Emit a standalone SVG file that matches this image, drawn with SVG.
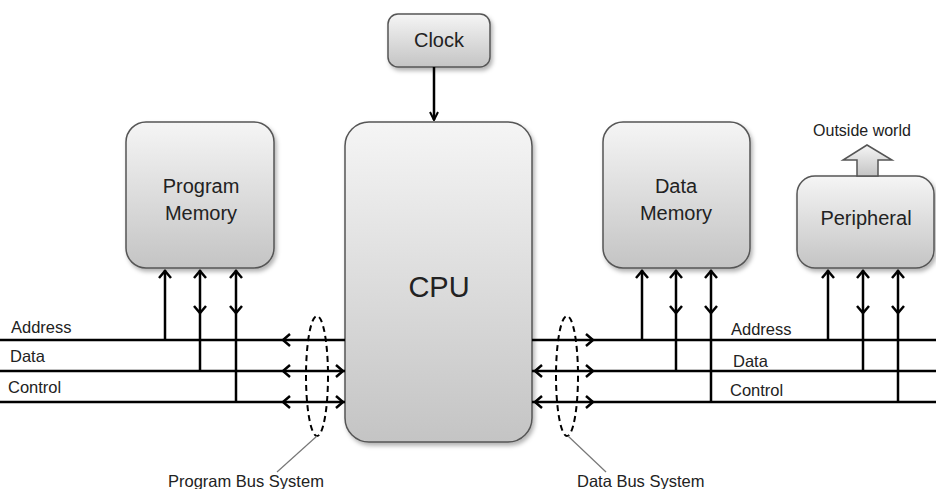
<svg xmlns="http://www.w3.org/2000/svg" width="936" height="489" viewBox="0 0 936 489">
<defs>
<linearGradient id="g" x1="0" y1="0" x2="0" y2="1">
<stop offset="0" stop-color="#f5f5f5"/>
<stop offset="1" stop-color="#c4c4c4"/>
</linearGradient>
<filter id="sh" x="-10%" y="-10%" width="130%" height="130%">
<feDropShadow dx="2" dy="3" stdDeviation="2" flood-color="#000" flood-opacity="0.3"/>
</filter>
<marker id="ah" viewBox="0 0 10 10" refX="9" refY="5" markerWidth="10" markerHeight="10" markerUnits="userSpaceOnUse" orient="auto">
<path d="M1,1 L9,5 L1,9" fill="none" stroke="#000" stroke-width="2"/>
</marker>
</defs>
<style>
.box{fill:url(#g);stroke:#555;stroke-width:1.5;filter:url(#sh)}
.t{font-family:"Liberation Sans",Arial,sans-serif;fill:#222;text-anchor:middle}
.l{font-family:"Liberation Sans",Arial,sans-serif;fill:#222;font-size:16.5px}
.w{stroke:#000;stroke-width:2.5;fill:none}
.h{stroke:#000;stroke-width:2.5;fill:none}
.e{stroke:#000;stroke-width:2;fill:none;stroke-dasharray:6 4}
.ld{stroke:#777;stroke-width:1.2}
</style>

<g id="clock">
<rect class="box" x="388" y="14" width="102" height="53" rx="10"/>
<text class="t" x="439" y="47" font-size="20">Clock</text>
</g>
<g id="program-memory">
<rect class="box" x="126" y="122" width="148" height="146" rx="20"/>
<text class="t" x="201" y="193" font-size="20">Program</text>
<text class="t" x="201" y="220" font-size="20">Memory</text>
</g>
<g id="cpu">
<rect class="box" x="345" y="122" width="187" height="320" rx="24"/>
<text class="t" x="439" y="297" font-size="29">CPU</text>
</g>
<g id="data-memory">
<rect class="box" x="603" y="122" width="147" height="146" rx="20"/>
<text class="t" x="676" y="193" font-size="20">Data</text>
<text class="t" x="676" y="220" font-size="20">Memory</text>
</g>
<g id="peripheral">
<rect class="box" x="797" y="176" width="137" height="92" rx="18"/>
<text class="t" x="866" y="225" font-size="20">Peripheral</text>
</g>
<g id="outside-world">
<path d="M857,176 L857,160 L843,160 L867,145 L892,160 L878,160 L878,176 Z" fill="url(#g)" stroke="#555" stroke-width="1.5"/>
<text class="t" x="862" y="136" font-size="16">Outside world</text>
</g>

<g id="connectors">
<line class="w" x1="434" y1="67" x2="434" y2="120" marker-end="url(#ah)"/>
<line class="w" x1="0" y1="340" x2="345" y2="340"/>
<line class="w" x1="0" y1="371" x2="345" y2="371"/>
<line class="w" x1="0" y1="402" x2="345" y2="402"/>
<line class="w" x1="532" y1="340" x2="936" y2="340"/>
<line class="w" x1="532" y1="371" x2="936" y2="371"/>
<line class="w" x1="532" y1="402" x2="936" y2="402"/>
<polyline class="h" points="290,334 283,340 290,346"/>
<polyline class="h" points="290,365 283,371 290,377"/>
<polyline class="h" points="336,365 343,371 336,377"/>
<polyline class="h" points="290,396 283,402 290,408"/>
<polyline class="h" points="336,396 343,402 336,408"/>
<polyline class="h" points="586,334 593,340 586,346"/>
<polyline class="h" points="542,365 535,371 542,377"/>
<polyline class="h" points="586,365 593,371 586,377"/>
<polyline class="h" points="542,396 535,402 542,408"/>
<polyline class="h" points="586,396 593,402 586,408"/>
<line class="w" x1="165" y1="340" x2="165" y2="270"/>
<polyline class="h" points="159,278 165,271 171,278"/>
<line class="w" x1="200" y1="371" x2="200" y2="270"/>
<polyline class="h" points="194,278 200,271 206,278"/>
<polyline class="h" points="194,306 200,313 206,306"/>
<line class="w" x1="236" y1="402" x2="236" y2="270"/>
<polyline class="h" points="230,278 236,271 242,278"/>
<polyline class="h" points="230,306 236,313 242,306"/>
<line class="w" x1="642" y1="340" x2="642" y2="270"/>
<polyline class="h" points="636,278 642,271 648,278"/>
<line class="w" x1="676" y1="371" x2="676" y2="270"/>
<polyline class="h" points="670,278 676,271 682,278"/>
<polyline class="h" points="670,306 676,313 682,306"/>
<line class="w" x1="711" y1="402" x2="711" y2="270"/>
<polyline class="h" points="705,278 711,271 717,278"/>
<polyline class="h" points="705,306 711,313 717,306"/>
<line class="w" x1="828" y1="340" x2="828" y2="270"/>
<polyline class="h" points="822,278 828,271 834,278"/>
<line class="w" x1="863" y1="371" x2="863" y2="270"/>
<polyline class="h" points="857,278 863,271 869,278"/>
<polyline class="h" points="857,306 863,313 869,306"/>
<line class="w" x1="898" y1="402" x2="898" y2="270"/>
<polyline class="h" points="892,278 898,271 904,278"/>
<polyline class="h" points="892,306 898,313 904,306"/>
<ellipse class="e" cx="317" cy="376" rx="11" ry="60"/>
<ellipse class="e" cx="567" cy="376" rx="11" ry="60"/>
<line class="ld" x1="317" y1="436" x2="277" y2="472"/>
<line class="ld" x1="568" y1="436" x2="606" y2="472"/>
</g>

<g id="labels">
<text class="l" x="11" y="333">Address</text>
<text class="l" x="10" y="362">Data</text>
<text class="l" x="8" y="393">Control</text>
<text class="l" x="731" y="335">Address</text>
<text class="l" x="733" y="367">Data</text>
<text class="l" x="730" y="396">Control</text>
<text class="l" x="168" y="487">Program Bus System</text>
<text class="l" x="577" y="487">Data Bus System</text>
</g>
</svg>
